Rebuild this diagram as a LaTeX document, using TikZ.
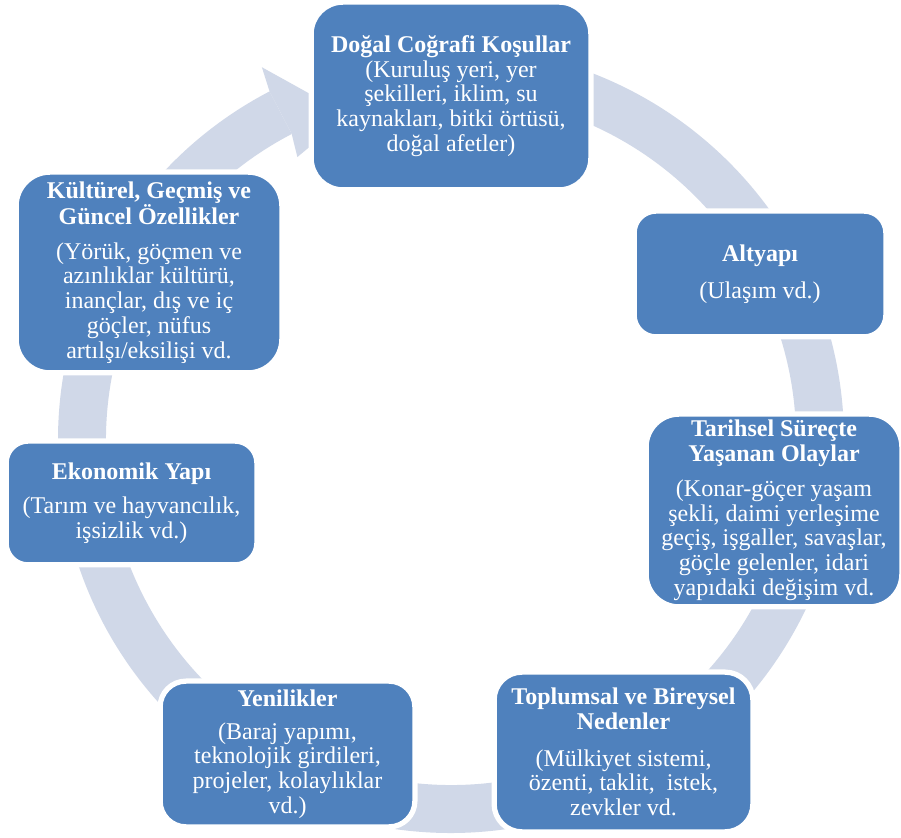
\documentclass[tikz,border=0pt]{standalone}
\usepackage{fontspec}
\setmainfont{Liberation Serif}
\usepackage{tikz}
\definecolor{stageblue}{RGB}{79,129,189}
\definecolor{ringgray}{RGB}{208,216,232}

\begin{document}
\begin{tikzpicture}[x=1pt, y=1pt,
	stage/.style={preaction={draw=white, line width=9pt}, draw=white, line width=1.5pt, fill=stageblue, text=white,
		align=center, inner sep=2pt, font=\fontsize{24}{24.75}\selectfont}]
		%%%%% START %%%%%
		
		\useasboundingbox[fill=white] (0, 0) rectangle (901, 837);
		
		% ring behind the boxes
		\begin{scope}[shift={(451, 397)}]
		\fill[ringgray] (95:393pt) arc[start angle=95, end angle=-242.5, radius=393pt] -- (-242.5:345pt) arc[start angle=-242.5, end angle=95, radius=345pt] -- cycle;
		\fill[ringgray] (116.9:418pt) -- (107.6:341pt) -- (118.5:322pt) -- (117.5:345pt) -- (117.5:393pt) -- cycle;
		\end{scope}
		
		\node[stage, minimum width=276pt, minimum height=184pt, rounded corners=30pt] (dogal) at (451, 741)
			{\textbf{Doğal Coğrafi Koşullar}\\(Kuruluş yeri, yer\\şekilleri, iklim, su\\kaynakları, bitki örtüsü,\\doğal afetler)};
		
		\node[stage, minimum width=248pt, minimum height=122pt, rounded corners=20pt] (altyapi) at (760, 563)
			{\textbf{Altyapı}\\[12pt](Ulaşım vd.)};
		
		\node[stage, minimum width=252pt, minimum height=189pt, rounded corners=31pt] (tarihsel) at (774, 326.5)
			{\textbf{Tarihsel Süreçte}\\\textbf{Yaşanan Olaylar}\\[10pt](Konar-göçer yaşam\\şekli, daimi yerleşime\\geçiş, işgaller, savaşlar,\\göçle gelenler, idari\\yapıdaki değişim vd.};
		
		\node[stage, minimum width=255pt, minimum height=156pt, rounded corners=26pt] (toplumsal) at (623.5, 85)
			{\textbf{Toplumsal ve Bireysel}\\\textbf{Nedenler}\\[12pt](Mülkiyet sistemi,\\özenti, taklit,~ istek,\\zevkler vd.};
		
		\node[stage, minimum width=251pt, minimum height=142pt, rounded corners=24pt] (yenilik) at (287.5, 83)
			{\textbf{Yenilikler}\\[8pt](Baraj yapımı,\\teknolojik girdileri,\\projeler, kolaylıklar\\vd.)};
		
		\node[stage, minimum width=247pt, minimum height=120pt, rounded corners=20pt] (ekonomi) at (131.5, 334)
			{\textbf{Ekonomik Yapı}\\[10pt](Tarım ve hayvancılık,\\işsizlik vd.)};
		
		\node[stage, minimum width=262pt, minimum height=197pt, rounded corners=32pt] (kultur) at (149, 564.5)
			{\textbf{Kültürel, Geçmiş ve}\\\textbf{Güncel Özellikler}\\[10pt](Yörük, göçmen ve\\azınlıklar kültürü,\\inançlar, dış ve iç\\göçler, nüfus\\artılşı/eksilişi vd.};
		
		%%%%% END %%%%%
\end{tikzpicture}
\end{document}
